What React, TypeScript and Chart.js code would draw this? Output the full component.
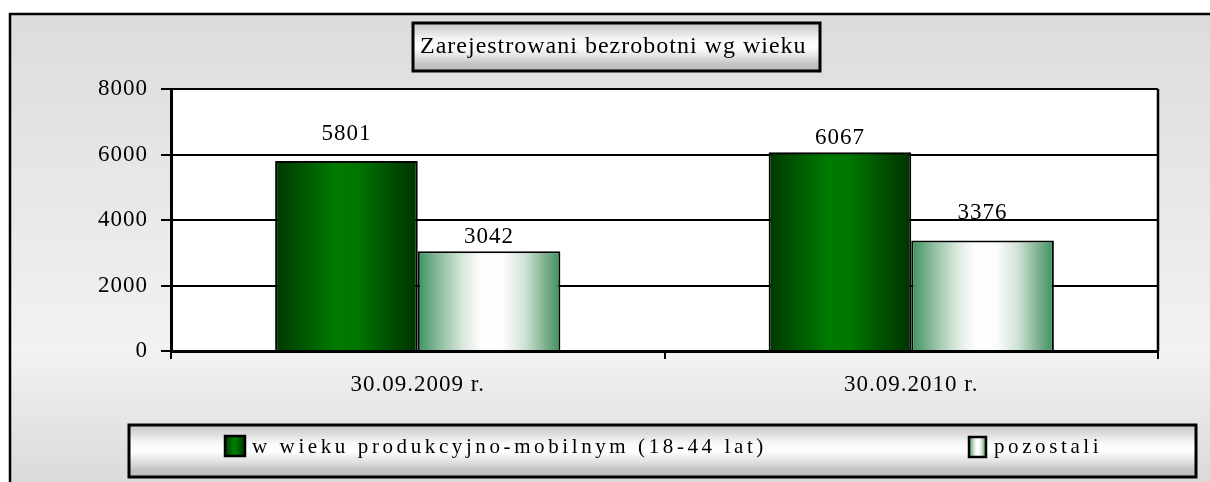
import React, { useEffect, useRef } from 'react';
import { Chart, registerables } from 'chart.js';

Chart.register(...registerables);

const categories = ['30.09.2009 r.', '30.09.2010 r.'];
const productiveAge = [5801, 6067];
const others = [3042, 3376];
const seriesNames = ['w wieku produkcyjno-mobilnym (18-44 lat)', 'pozostali'];
const yTicks = [0, 2000, 4000, 6000, 8000];
const chartTitle = 'Zarejestrowani bezrobotni wg wieku';

const FONT = '"Liberation Serif", "Times New Roman", serif';
// vertical gap between bar top and its value label, per dataset / per category
const labelOffsets = [[27, 14], [14, 27]];

function greenGrad(ctx: CanvasRenderingContext2D, x0: number, x1: number) {
  const g = ctx.createLinearGradient(x0, 0, x1, 0);
  g.addColorStop(0, '#003800');
  g.addColorStop(0.2, '#005800');
  g.addColorStop(0.42, '#007a00');
  g.addColorStop(0.58, '#007600');
  g.addColorStop(0.8, '#005000');
  g.addColorStop(1, '#003400');
  return g;
}

function lightGrad(ctx: CanvasRenderingContext2D, x0: number, x1: number) {
  const g = ctx.createLinearGradient(x0, 0, x1, 0);
  g.addColorStop(0, '#3a9260');
  g.addColorStop(0.15, '#8cbd9c');
  g.addColorStop(0.32, '#dbe9df');
  g.addColorStop(0.45, '#ffffff');
  g.addColorStop(0.6, '#fcfdfc');
  g.addColorStop(0.75, '#cfe2d5');
  g.addColorStop(0.9, '#78ae8a');
  g.addColorStop(1, '#3a9260');
  return g;
}

function boxGrad(ctx: CanvasRenderingContext2D, y0: number, y1: number) {
  const g = ctx.createLinearGradient(0, y0, 0, y1);
  g.addColorStop(0, '#c4c4c4');
  g.addColorStop(0.15, '#dadada');
  g.addColorStop(0.35, '#f8f8f8');
  g.addColorStop(0.5, '#ffffff');
  g.addColorStop(0.7, '#e2e2e2');
  g.addColorStop(0.85, '#c4c4c4');
  g.addColorStop(1, '#bababa');
  return g;
}

const decor = {
  id: 'decor',
  beforeDraw(chart: any) {
    const { ctx, width, height, chartArea } = chart;
    ctx.save();
    ctx.fillStyle = '#ffffff';
    ctx.fillRect(0, 0, width, height);
    const bg = ctx.createLinearGradient(0, 14, 0, height);
    bg.addColorStop(0, '#dcdcdc');
    bg.addColorStop(0.72, '#f2f2f2');
    bg.addColorStop(1, '#dadada');
    ctx.fillStyle = bg;
    ctx.fillRect(10, 14, width, height);
    ctx.strokeStyle = '#000';
    ctx.lineWidth = 2.5;
    ctx.beginPath();
    ctx.moveTo(10, height + 5);
    ctx.lineTo(10, 14);
    ctx.lineTo(width + 5, 14);
    ctx.stroke();

    // plot area
    ctx.fillStyle = '#ffffff';
    ctx.fillRect(chartArea.left, chartArea.top, chartArea.right - chartArea.left, chartArea.bottom - chartArea.top);

    // title box
    ctx.fillStyle = boxGrad(ctx, 23, 71);
    ctx.fillRect(413, 23, 407, 48);
    ctx.lineWidth = 3;
    ctx.strokeRect(413, 23, 407, 48);
    ctx.fillStyle = '#000';
    ctx.font = `24px ${FONT}`;
    ctx.textAlign = 'left';
    ctx.textBaseline = 'middle';
    (ctx as any).letterSpacing = '1px';
    ctx.fillText(chartTitle, 420, 47);

    // legend box
    ctx.fillStyle = boxGrad(ctx, 425, 477);
    ctx.fillRect(129, 425, 1067, 52);
    ctx.lineWidth = 3;
    ctx.strokeRect(129, 425, 1067, 52);
    const items = [
      { x: 225, y: 436, w: 20, h: 20, tx: 252, grad: greenGrad },
      { x: 969, y: 437, w: 17, h: 20, tx: 994, grad: lightGrad },
    ];
    items.forEach((it, i) => {
      ctx.fillStyle = it.grad(ctx, it.x, it.x + it.w);
      ctx.fillRect(it.x, it.y, it.w, it.h);
      ctx.lineWidth = 2.5;
      ctx.strokeStyle = '#000';
      ctx.strokeRect(it.x, it.y, it.w, it.h);
      ctx.fillStyle = '#000';
      ctx.font = `21px ${FONT}`;
      (ctx as any).letterSpacing = '3.6px';
      ctx.textBaseline = 'middle';
      ctx.fillText(seriesNames[i], it.tx, 447);
    });
    ctx.restore();
    // slight letter spacing for axis tick labels drawn afterwards
    (ctx as any).letterSpacing = '1px';
  },
  afterDatasetsUpdate(chart: any) {
    const ctx = chart.ctx;
    chart.data.datasets.forEach((_ds: any, i: number) => {
      const meta = chart.getDatasetMeta(i);
      meta.data.forEach((el: any) => {
        const x0 = el.x - el.width / 2;
        const x1 = el.x + el.width / 2;
        const g = i === 0 ? greenGrad(ctx, x0, x1) : lightGrad(ctx, x0, x1);
        el.options = Object.assign({}, el.options, { backgroundColor: g });
      });
    });
  },
  afterDatasetsDraw(chart: any) {
    const { ctx, chartArea } = chart;
    ctx.save();
    ctx.strokeStyle = '#000';
    ctx.lineWidth = 2.5;
    ctx.beginPath();
    ctx.moveTo(chartArea.right, chartArea.top);
    ctx.lineTo(chartArea.right, chartArea.bottom);
    ctx.stroke();
    ctx.fillStyle = '#000';
    ctx.font = `23px ${FONT}`;
    ctx.textAlign = 'center';
    ctx.textBaseline = 'middle';
    (ctx as any).letterSpacing = '1px';
    chart.data.datasets.forEach((ds: any, i: number) => {
      const meta = chart.getDatasetMeta(i);
      meta.data.forEach((el: any, j: number) => {
        ctx.fillText(String(ds.data[j]), el.x, el.y - labelOffsets[i][j]);
      });
    });
    ctx.restore();
  },
  afterDraw(chart: any) {
    (chart.ctx as any).letterSpacing = '0px';
  },
};

export default function App() {
  const ref = useRef<HTMLCanvasElement | null>(null);
  useEffect(() => {
    if (!ref.current) return;
    const chart = new Chart(ref.current, {
      type: 'bar',
      data: {
        labels: categories,
        datasets: [
          { label: seriesNames[0], data: productiveAge, backgroundColor: '#006400', borderColor: '#000', borderWidth: 2 },
          { label: seriesNames[1], data: others, backgroundColor: '#cfe2d5', borderColor: '#000', borderWidth: 2 },
        ],
      },
      options: {
        responsive: false,
        animation: false,
        devicePixelRatio: 1,
        layout: { padding: { left: 0, top: 89, right: 52, bottom: 81 } },
        datasets: { bar: { categoryPercentage: 0.578, barPercentage: 1 } } as any,
        plugins: {
          legend: { display: false },
          title: { display: false },
          tooltip: { enabled: false },
        },
        scales: {
          x: {
            grid: { offset: true, drawOnChartArea: false, color: '#000', lineWidth: 2, tickLength: 8 },
            border: { color: '#000', width: 3 },
            ticks: { color: '#000', font: { family: FONT, size: 23 }, padding: 12, maxRotation: 0 },
            afterFit: (s: any) => { s.height = 50; },
          },
          y: {
            min: 0,
            max: 8000,
            afterBuildTicks: (s: any) => { s.ticks = yTicks.map((v) => ({ value: v })); },
            grid: { color: '#000', lineWidth: 2, tickLength: 10 },
            border: { color: '#000', width: 3 },
            ticks: { color: '#000', font: { family: FONT, size: 23 }, padding: 13, callback: (v: any) => String(v) },
            afterFit: (s: any) => { s.width = 171; },
          },
        },
      } as any,
      plugins: [decor],
    });
    return () => chart.destroy();
  }, []);
  return (
    <div style={{ position: 'fixed', left: 0, top: 0, width: 1210, height: 482 }}>
      <canvas ref={ref} width={1210} height={482} style={{ display: 'block' }} />
    </div>
  );
}
